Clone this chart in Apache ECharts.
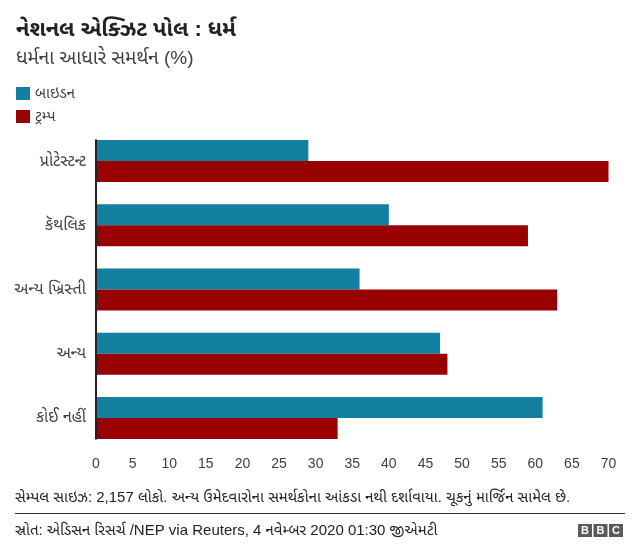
<!DOCTYPE html>
<html>
<head>
<meta charset="utf-8">
<script src="https://cdn.jsdelivr.net/npm/echarts@6/dist/echarts.min.js"></script>
<style>
html,body{margin:0;padding:0;background:#fff;}
#main{width:640px;height:558px;}
</style>
</head>
<body>
<div id="main"></div>
<script>
const categories = ['પ્રોટેસ્ટન્ટ', 'કૅથલિક', 'અન્ય ખ્રિસ્તી', 'અન્ય', 'કોઈ નહીં'];
const seriesNames = ['બાઇડન', 'ટ્રમ્પ'];
const bidenValues = [29, 40, 36, 47, 61];
const trumpValues = [70, 59, 63, 48, 33];
const xTicks = [0, 5, 10, 15, 20, 25, 30, 35, 40, 45, 50, 55, 60, 65, 70];
const titleText = 'નેશનલ એક્ઝિટ પોલ : ધર્મ';
const subtitleText = 'ધર્મના આધારે સમર્થન (%)';
const noteText = 'સેમ્પલ સાઇઝ: 2,157 લોકો. અન્ય ઉમેદવારોના સમર્થકોના આંકડા નથી દર્શાવાયા. ચૂકનું માર્જિન સામેલ છે.';
const sourceText = 'સ્રોત: એડિસન રિસર્ચ /NEP via Reuters, 4 નવેમ્બર 2020 01:30 જીએમટી';

const FONT = '"Liberation Sans", Arial, "Noto Sans Gujarati", "Noto Sans", sans-serif';
const TXT = '#404040';
const BAR_W = 21;

const chart = echarts.init(document.getElementById('main'), null, {renderer: 'canvas'});
const option = {
  backgroundColor: '#fff',
  animation: false,
  textStyle: {fontFamily: FONT},
  title: [
    {text: titleText, left: 11, top: 14, textStyle: {fontFamily: FONT, fontSize: 22, fontWeight: 'bold', color: '#222'}},
    {text: subtitleText, left: 11, top: 44, textStyle: {fontFamily: FONT, fontSize: 19, fontWeight: 'normal', color: TXT}}
  ],
  legend: {
    orient: 'vertical', left: 16, top: 86, padding: 0,
    itemWidth: 14, itemHeight: 13, itemGap: 8,
    icon: 'rect',
    data: seriesNames,
    textStyle: {fontFamily: FONT, fontSize: 15, color: TXT}
  },
  grid: {left: 96, right: 31.5, top: 129, bottom: 108, containLabel: false},
  xAxis: {
    type: 'value', min: xTicks[0], max: xTicks[xTicks.length - 1], interval: 5,
    axisLine: {show: false}, axisTick: {show: false}, splitLine: {show: false},
    axisLabel: {margin: 7, fontSize: 14, color: TXT, fontFamily: FONT}
  },
  yAxis: {
    type: 'category', data: categories, inverse: true,
    axisLine: {show: false}, axisTick: {show: false},
    axisLabel: {margin: 10, fontSize: 16, color: TXT, fontFamily: FONT}
  },
  series: [
    {name: seriesNames[0], type: 'bar', data: bidenValues, barWidth: BAR_W, barGap: '0%', itemStyle: {color: '#1380A1'}},
    {name: seriesNames[1], type: 'bar', data: trumpValues, barWidth: BAR_W, barGap: '0%', itemStyle: {color: '#990000'}}
  ]
};
chart.setOption(option);

// decorations: axis line spanning the bars, footer rule, BBC logo
const x0 = chart.convertToPixel({xAxisIndex: 0}, 0);
const yFirst = chart.convertToPixel({yAxisIndex: 0}, categories[0]);
const yLast = chart.convertToPixel({yAxisIndex: 0}, categories[categories.length - 1]);
const logoX = 578, logoY = 524, box = 14, gap = 1.5;
const logo = ['B', 'B', 'C'].map((ch, i) => ({
  type: 'group', left: logoX + i * (box + gap), top: logoY,
  children: [
    {type: 'rect', shape: {x: 0, y: 0, width: box, height: 13}, style: {fill: '#5a5a5a'}},
    {type: 'text', x: box / 2, y: 7, style: {text: ch, fill: '#fff', font: 'bold 11px "Liberation Sans", Arial, sans-serif', align: 'center', verticalAlign: 'middle'}}
  ]
}));
chart.setOption({
  graphic: [
    {type: 'line', shape: {x1: x0, y1: yFirst - BAR_W - 0.5, x2: x0, y2: yLast + BAR_W + 0.5}, style: {stroke: '#222', lineWidth: 2}, z: 10},
    {type: 'text', left: 15, top: 490, style: {text: noteText, fill: '#222', font: '15px ' + FONT}},
    {type: 'line', shape: {x1: 15, y1: 513.5, x2: 625, y2: 513.5}, style: {stroke: '#333', lineWidth: 1}},
    {type: 'text', left: 15, top: 523, style: {text: sourceText, fill: '#222', font: '15px ' + FONT}}
  ].concat(logo)
});
</script>
</body>
</html>
